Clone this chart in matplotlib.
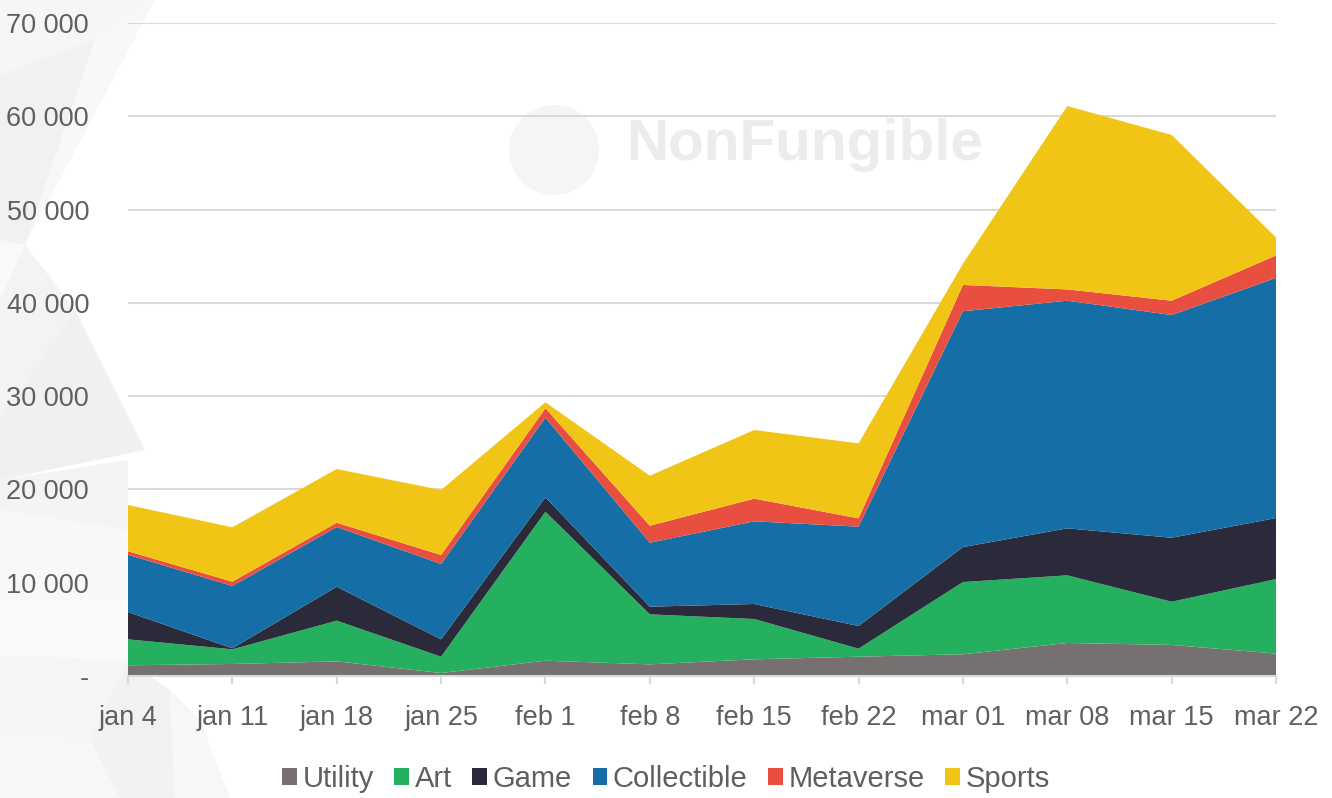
# NFT weekly sales by category - stacked area chart

import numpy as np
import matplotlib.pyplot as plt
from matplotlib.patches import Polygon, Wedge
from matplotlib.ticker import FuncFormatter

weeks = ['jan 4', 'jan 11', 'jan 18', 'jan 25', 'feb 1', 'feb 8', 'feb 15',
         'feb 22', 'mar 01', 'mar 08', 'mar 15', 'mar 22']

utility = [1150, 1290, 1570, 320, 1640, 1250, 1790, 2070, 2330, 3540, 3330, 2400]
art = [2780, 1570, 4360, 1750, 15970, 5360, 4320, 860, 7740, 7250, 4630, 7990]
game = [2930, 110, 3640, 1860, 1540, 820, 1610, 2430, 3750, 5040, 6860, 6540]
collectible = [6140, 6680, 6400, 8080, 8540, 6860, 8860, 10650, 25280, 24400, 23880, 25740]
metaverse = [370, 460, 460, 960, 1010, 1820, 2430, 890, 2820, 1210, 1530, 2410]
sports = [4960, 5830, 5760, 6970, 640, 5360, 7360, 8040, 2270, 19660, 17770, 1930]

labels = ['Utility', 'Art', 'Game', 'Collectible', 'Metaverse', 'Sports']
colors = ['#767170', '#25b060', '#2b2a3a', '#156ea5', '#e84f40', '#f0c516']

plt.rcParams['font.family'] = ['Liberation Sans', 'DejaVu Sans']
text_color = '#5f5f5f'
grid_color = '#d9d9d9'

fig = plt.figure(figsize=(13.32, 7.98), dpi=100)

# faint low-poly background on the left side
bg = fig.add_axes([0, 0, 1, 1], zorder=-10)
bg.set_xlim(0, 1332)
bg.set_ylim(798, 0)
bg.axis('off')
polys = [
    ([(0, 0), (150, 0), (95, 40), (0, 75)], '#f6f6f6'),
    ([(0, 75), (95, 40), (25, 245), (0, 240)], '#f1f1f1'),
    ([(95, 40), (150, 0), (155, 0), (25, 245)], '#f8f8f8'),
    ([(0, 240), (25, 245), (75, 310), (0, 300)], '#f9f9f9'),
    ([(25, 245), (75, 310), (0, 420), (0, 300)], '#f3f3f3'),
    ([(0, 420), (75, 310), (145, 450), (0, 480)], '#f0f0f0'),
    ([(0, 480), (128, 460), (128, 530), (0, 510)], '#f4f4f4'),
    ([(0, 510), (128, 530), (128, 600), (0, 600)], '#f8f8f8'),
    ([(0, 600), (128, 600), (128, 660), (0, 655)], '#fafafa'),
    ([(0, 655), (128, 660), (90, 740), (0, 730)], '#f6f6f6'),
    ([(90, 740), (128, 660), (170, 690), (175, 798), (120, 798)], '#f2f2f2'),
    ([(0, 730), (90, 740), (120, 798), (0, 798)], '#f7f7f7'),
    ([(175, 798), (170, 690), (200, 720), (230, 798)], '#f7f7f7'),
]
for pts, c in polys:
    bg.add_patch(Polygon(pts, closed=True, facecolor=c, edgecolor='none'))

ax = fig.add_axes([128 / 1332, 1 - 676 / 798, (1276 - 128) / 1332, (676 - 23) / 798])
ax.patch.set_alpha(0)

x = np.arange(len(weeks))
ax.stackplot(x, utility, art, game, collectible, metaverse, sports,
             colors=colors, labels=labels, zorder=3, linewidth=0)

ax.set_xlim(0, len(weeks) - 1)
ax.set_ylim(0, 70000)
ax.set_yticks(np.arange(0, 70001, 10000))
ax.yaxis.set_major_formatter(FuncFormatter(
    lambda v, p: '-' if v == 0 else f'{int(v):,}'.replace(',', ' ')))
ax.set_xticks(x)
ax.set_xticklabels(weeks)

ax.grid(axis='y', color=grid_color, linewidth=1.5, zorder=1)
ax.set_axisbelow(True)
for s in ['top', 'right', 'left']:
    ax.spines[s].set_visible(False)
ax.spines['bottom'].set_color(grid_color)
ax.spines['bottom'].set_linewidth(1.5)
ax.spines['bottom'].set_zorder(4)

ax.tick_params(axis='y', length=0, pad=28, labelsize=19.5, labelcolor=text_color)
ax.tick_params(axis='x', length=6, width=1.5, color=grid_color, pad=15,
               labelsize=19.5, labelcolor=text_color)

# watermark
ax.text(0.589, 0.813, 'NonFungible', transform=ax.transAxes, ha='center', va='center',
        fontsize=42, fontweight='bold', color='#ececec', zorder=0.5)
bg.add_patch(Wedge((554, 150), 45, 0, 360, facecolor='#f5f5f5', edgecolor='none', zorder=0))

handles, leg_labels = ax.get_legend_handles_labels()
fig.legend(handles, leg_labels, loc='center', bbox_to_anchor=(0.5, 0.024), ncol=6,
           frameon=False, fontsize=21, labelcolor=text_color, handlelength=0.5,
           handleheight=0.5, handletextpad=0.2, columnspacing=0.7)

plt.savefig('out.png', dpi=100)
